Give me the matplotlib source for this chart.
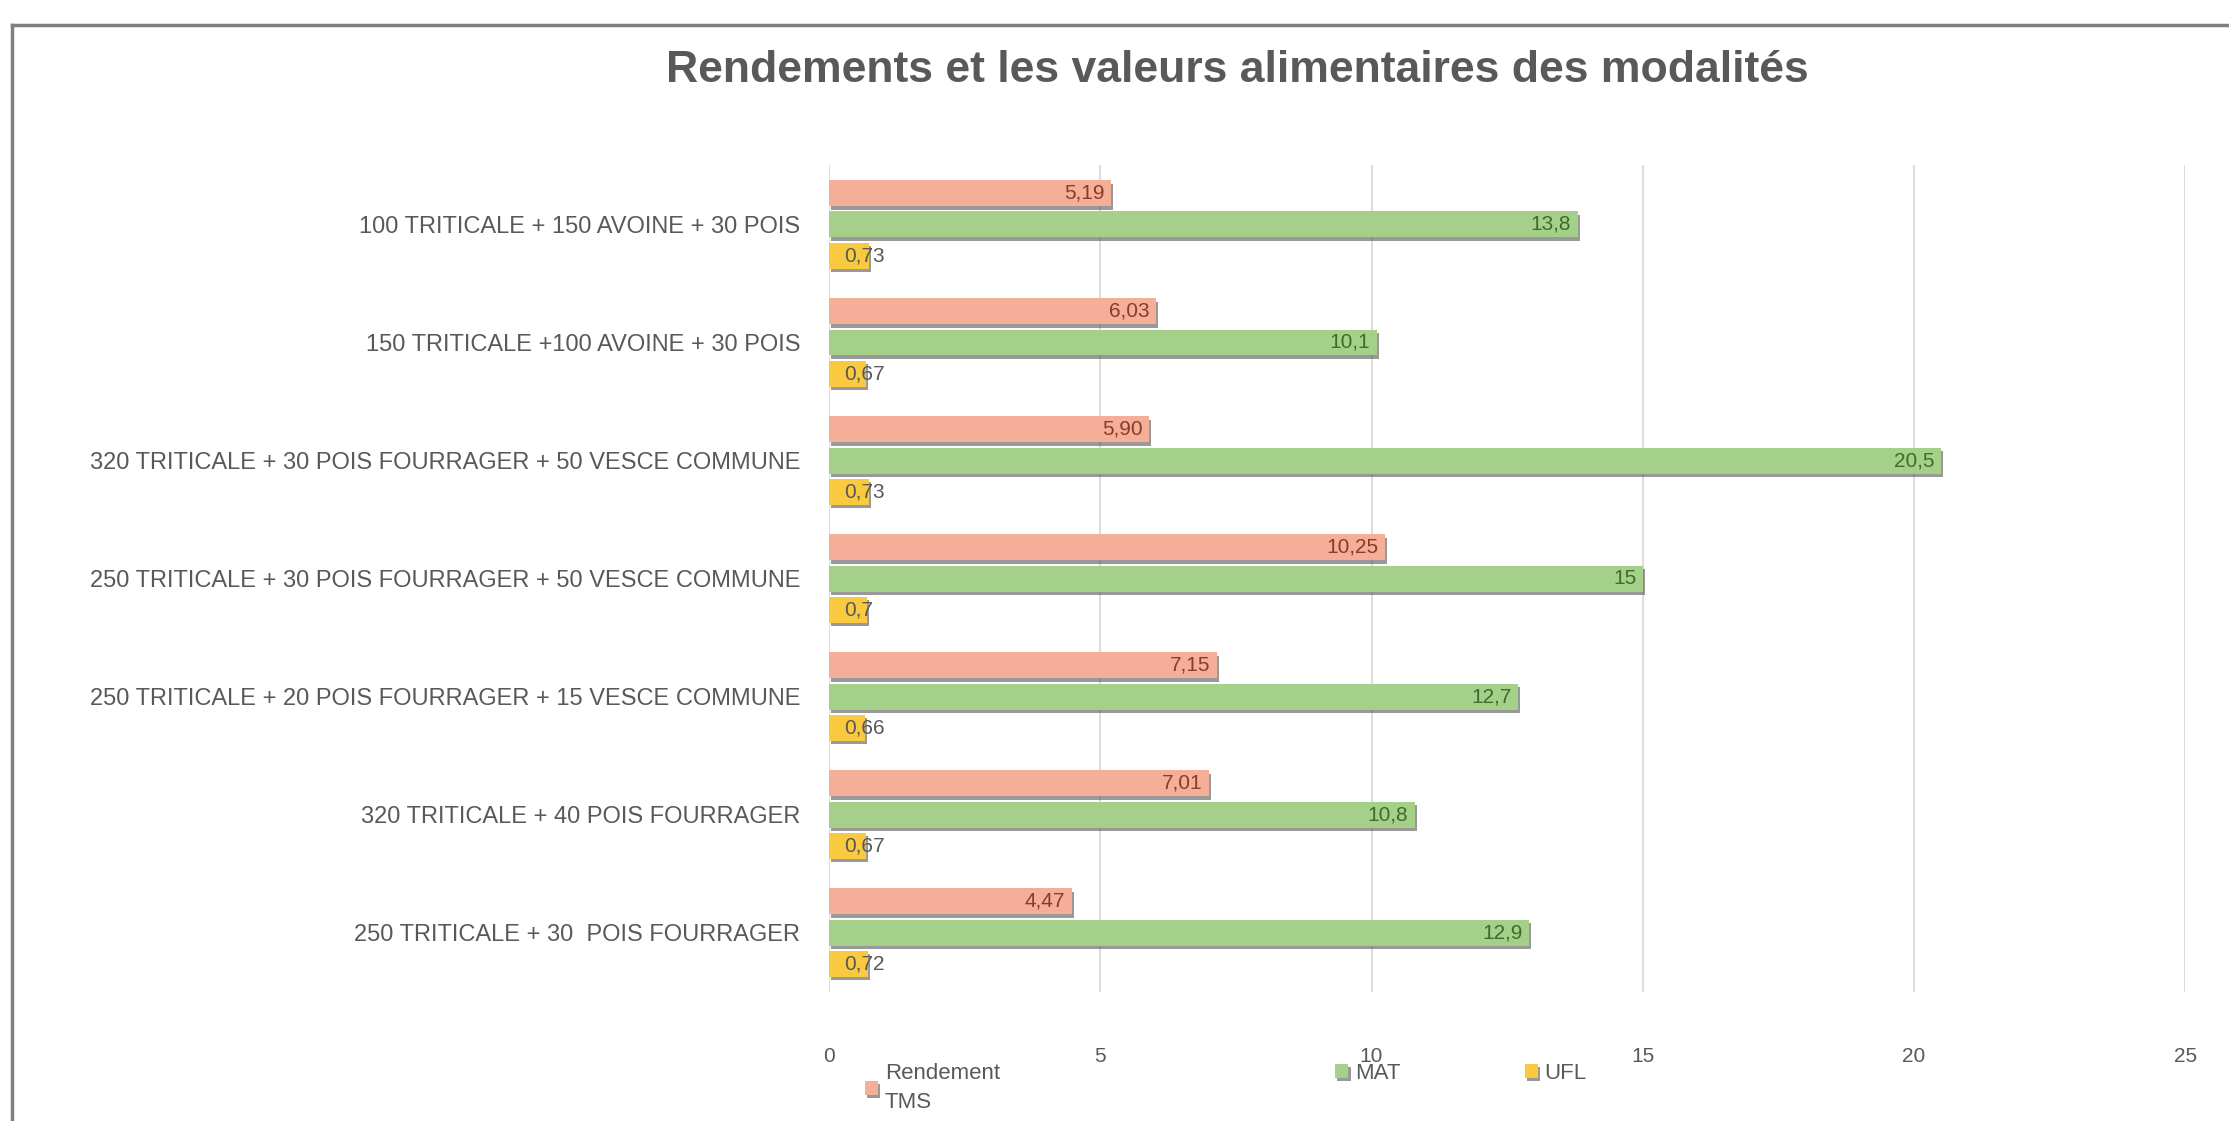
import matplotlib
matplotlib.use('Agg')
import matplotlib.pyplot as plt
import matplotlib.patheffects as pe
from matplotlib.lines import Line2D
import numpy as np

plt.rcParams['font.family'] = ['Liberation Sans Narrow', 'Liberation Sans', 'DejaVu Sans']

# categories, top to bottom as in the chart
categories = [
    "100 TRITICALE + 150 AVOINE + 30 POIS",
    "150 TRITICALE +100 AVOINE + 30 POIS",
    "320 TRITICALE + 30 POIS FOURRAGER + 50 VESCE COMMUNE",
    "250 TRITICALE + 30 POIS FOURRAGER + 50 VESCE COMMUNE",
    "250 TRITICALE + 20 POIS FOURRAGER + 15 VESCE COMMUNE",
    "320 TRITICALE + 40 POIS FOURRAGER",
    "250 TRITICALE + 30  POIS FOURRAGER",
]
# values as printed on the chart (comma decimals)
rendement_txt = ["5,19", "6,03", "5,90", "10,25", "7,15", "7,01", "4,47"]
mat_txt = ["13,8", "10,1", "20,5", "15", "12,7", "10,8", "12,9"]
ufl_txt = ["0,73", "0,67", "0,73", "0,7", "0,66", "0,67", "0,72"]

series_names = ["Rendement\nTMS", "MAT", "UFL"]
xticks = [0, 5, 10, 15, 20, 25]

def to_num(lst):
    return [float(s.replace(',', '.')) for s in lst]

rendement = to_num(rendement_txt)
mat = to_num(mat_txt)
ufl = to_num(ufl_txt)

bar_colors = ['#F5AE97', '#A5D08A', '#F9C940']
label_colors = ['#8A3B2C', '#3F6B2B', '#595959']

fig = plt.figure(figsize=(22.29, 11.21), dpi=100)
ax = fig.add_axes([0.372, 0.1154, 0.6083, 0.737])

n = len(categories)
ypos = np.arange(n)[::-1]  # first category at top
off = 0.265
h = 0.22
shadow = [pe.SimplePatchShadow(offset=(1.5, -2.5), shadow_rgbFace='#555555', alpha=0.6), pe.Normal()]

all_series = [(rendement, rendement_txt), (mat, mat_txt), (ufl, ufl_txt)]
handles = []
for i, (vals, txts) in enumerate(all_series):
    yy = ypos + off * (1 - i)
    bars = ax.barh(yy, vals, height=h, color=bar_colors[i], zorder=3)
    for b in bars:
        b.set_path_effects(shadow)
    handles.append(bars)
    for v, t, y in zip(vals, txts, yy):
        if i == 2:
            # too short for an inside label, text runs past the bar
            ax.text(0.28, y, t, ha='left', va='center', fontsize=15,
                    color=label_colors[i], zorder=4)
        else:
            ax.text(v - 0.12, y, t, ha='right', va='center', fontsize=15,
                    color=label_colors[i], zorder=4)

ax.set_xlim(0, 25)
ax.set_ylim(-0.5, n - 0.5)
ax.set_xticks(xticks)
ax.set_yticks(ypos)
ax.set_yticklabels(categories, fontsize=17, color='#595959')
ax.tick_params(axis='y', length=0, pad=21)
ax.tick_params(axis='x', length=0, pad=40, labelsize=15, labelcolor='#595959')
ax.xaxis.grid(True, color='#DDDDDD', linewidth=1.5, zorder=0)
ax.set_axisbelow(True)
for s in ax.spines.values():
    s.set_visible(False)

fig.text(0.555, 0.937, "Rendements et les valeurs alimentaires des modalités",
         ha='center', va='center', fontsize=32, fontweight='bold', color='#595959')

# legend entries placed like the original (uneven spacing)
leg_x = [0.383, 0.594, 0.679]
for i in range(3):
    lg = fig.legend([handles[i]], [series_names[i]], loc='upper left',
                    bbox_to_anchor=(leg_x[i], 0.062), frameon=False,
                    handlelength=0.6, handleheight=0.6, handletextpad=0.3,
                    borderpad=0, fontsize=16, labelcolor='#595959')
    for t in lg.get_texts():
        t.set_linespacing(1.5)

# chart frame (left and top edges visible in the original)
fig.add_artist(Line2D([0.0055, 0.0055], [0, 0.978], color='#7F7F7F', linewidth=2.5))
fig.add_artist(Line2D([0.0055, 1.0], [0.978, 0.978], color='#7F7F7F', linewidth=2.5))

fig.savefig('out.png', dpi=100, facecolor='white')
